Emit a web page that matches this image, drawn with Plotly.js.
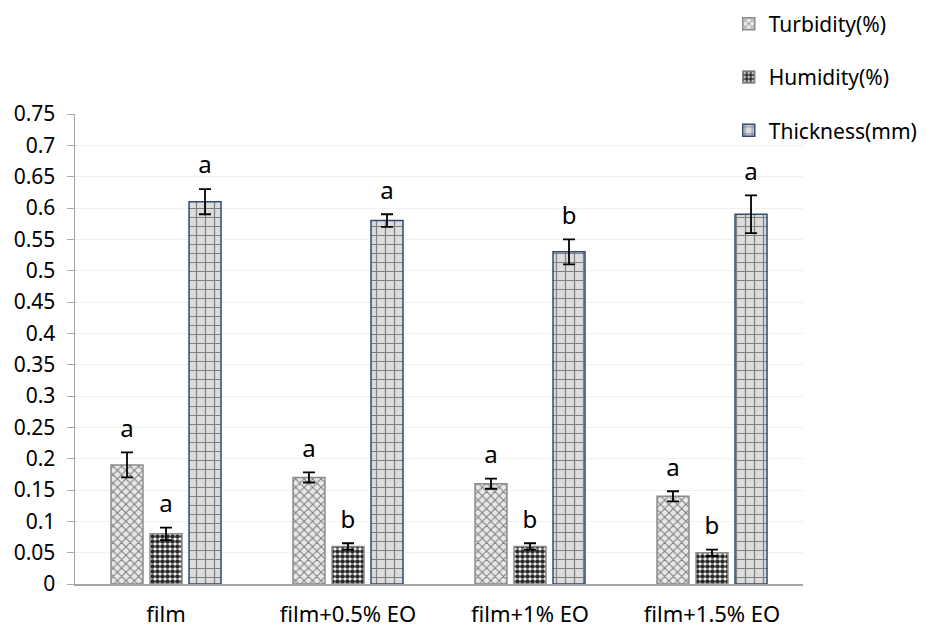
<!DOCTYPE html>
<html>
<head>
<meta charset="utf-8">
<script src="https://cdn.plot.ly/plotly-3.0.1.min.js"></script>
<style>html,body{margin:0;padding:0;background:#fff;}#chart{width:931px;height:630px;}</style>
</head>
<body>
<div id="chart"></div>
<script>
const categories = ["film", "film+0.5% EO", "film+1% EO", "film+1.5% EO"];
const turbidity = [0.19, 0.17, 0.16, 0.14];
const turbidityErr = [0.02, 0.008, 0.008, 0.008];
const turbidityLetters = ["a", "a", "a", "a"];
const humidity = [0.08, 0.06, 0.06, 0.05];
const humidityErr = [0.01, 0.005, 0.005, 0.005];
const humidityLetters = ["a", "b", "b", "b"];
const thickness = [0.61, 0.58, 0.53, 0.59];
const thicknessErr = [0.02, 0.01, 0.02, 0.03];
const thicknessLetters = ["a", "a", "b", "a"];
const yTicks = [0,0.05,0.1,0.15,0.2,0.25,0.3,0.35,0.4,0.45,0.5,0.55,0.6,0.65,0.7,0.75];

const FONT = "Noto Sans, Open Sans, sans-serif";
const errStyle = {type:'data', visible:true, color:'#000', thickness:1.8, width:6};

function barTrace(name, y, err, og, pattern, lineColor){
  return {type:'bar', name:name, x:categories, y:y, offsetgroup:og, legendgroup:og,
    error_y:Object.assign({array:err}, errStyle),
    marker:{color:'#d9d9d9', line:{color:lineColor, width:1.5}, pattern:pattern},
    hoverinfo:'skip'};
}
function letterTrace(y, err, letters, og){
  return {type:'scatter', mode:'markers+text', x:categories, y:y.map((v,i)=>v+err[i]), text:letters,
    textposition:'top center', offsetgroup:og, showlegend:false, cliponaxis:false,
    marker:{size:14, opacity:0, color:'#fff'},
    textfont:{family:FONT, size:24, color:'#000'}, hoverinfo:'skip'};
}

const data = [
  barTrace('Turbidity(%)', turbidity, turbidityErr, 't', {shape:'x', fgcolor:'#7a7a7a', bgcolor:'#e8e8e8', size:6, solidity:0.3}, '#8c8c8c'),
  barTrace('Humidity(%)', humidity, humidityErr, 'h', {shape:'.', fgcolor:'#2a2a2a', bgcolor:'#ffffff', size:5, solidity:0.7}, '#8c8c8c'),
  barTrace('Thickness(mm)', thickness, thicknessErr, 'k', {shape:'+', fgcolor:'#7f7f7f', bgcolor:'#dcdcdc', size:9, solidity:0.25}, '#2e4a78'),
  letterTrace(turbidity, turbidityErr, turbidityLetters, 't'),
  letterTrace(humidity, humidityErr, humidityLetters, 'h'),
  letterTrace(thickness, thicknessErr, thicknessLetters, 'k')
];

const layout = {
  width:931, height:630,
  margin:{l:75, r:128, t:114, b:46, pad:0, autoexpand:false},
  paper_bgcolor:'#fff', plot_bgcolor:'#fff',
  barmode:'group', bargap:0.357, bargroupgap:0.18,
  scattermode:'group', scattergap:0.357,
  font:{family:FONT, size:21, color:'#000'},
  showlegend:true,
  legend:{x:0.898, xanchor:'left', y:1.235, yanchor:'top', tracegroupgap:23,
    font:{family:FONT, size:21, color:'#000'}, bgcolor:'rgba(0,0,0,0)', itemwidth:30},
  xaxis:{type:'category', showline:true, linecolor:'#a6a6a6', linewidth:1.5, ticks:'',
    ticklabelstandoff:10, automargin:false,
    tickfont:{family:FONT, size:22}, showgrid:false, zeroline:false, fixedrange:true},
  yaxis:{range:[0,0.75], tickvals:yTicks, ticktext:yTicks.map(String), showline:true,
    linecolor:'#a6a6a6', linewidth:1.5, ticks:'outside', ticklen:7, tickcolor:'#a6a6a6',
    ticklabelstandoff:7, automargin:false,
    showgrid:true, gridcolor:'#f0f0f0', gridwidth:1, zeroline:false,
    tickfont:{family:FONT, size:21}, fixedrange:true}
};

Plotly.newPlot('chart', data, layout, {displayModeBar:false, staticPlot:true});
</script>
</body>
</html>
